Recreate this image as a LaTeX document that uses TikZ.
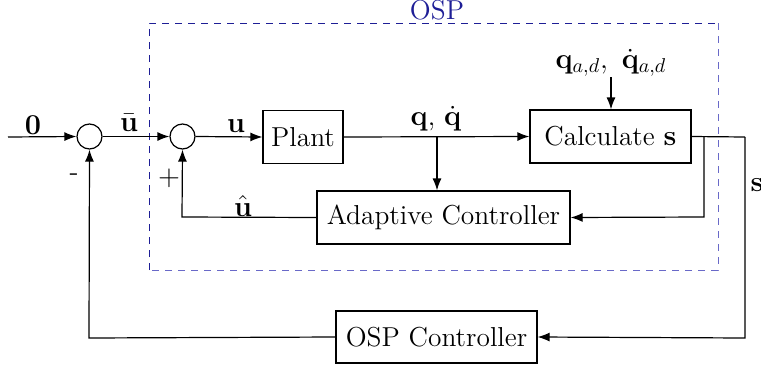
\documentclass[tikz,border=0pt]{standalone}
\usetikzlibrary{arrows.meta}
\definecolor{ospdark}{RGB}{30,30,150}
\definecolor{osplight}{RGB}{105,105,200}
\begin{document}
\begin{tikzpicture}[x=0.5pt,y=-0.5pt,
  every node/.style={font=\fontsize{13.7}{16}\selectfont},
  blk/.style={draw,line width=0.6pt,inner sep=0pt,minimum height=26.5pt},
  sumpt/.style={draw,circle,line width=0.6pt,inner sep=0pt,minimum size=12.5pt},
  wire/.style={line width=0.6pt},
  arr/.style={wire,-{Latex[length=6pt,width=4.5pt]}},
  lbl/.style={inner sep=0pt},
  grp/.style={line width=0.5pt,dash pattern=on 3.5pt off 3pt}]
\useasboundingbox (0,0) rectangle (761,370);

% enclosing dashed group
\draw[grp,ospdark] (149,270) -- (149,23) -- (718,23);
\draw[grp,osplight] (718,23) -- (718,270) -- (149,270);
\node[lbl,text=ospdark] (osp) at (437,10) {OSP};

% blocks
\node[sumpt] (s1) at (89.5,136.5) {};
\node[sumpt] (s2) at (182.5,136.5) {};
\node[blk,minimum width=40pt] (plant) at (303,137) {Plant};
\node[blk,minimum width=80.5pt] (calc) at (610.5,136.5) {Calculate $\mathbf{s}$};
\node[blk,minimum width=126.5pt] (adapt) at (443.5,217.5) {Adaptive Controller};
\node[blk,minimum width=100.5pt,minimum height=26pt] (ospc) at (436.5,337) {OSP Controller};

% junction points
\coordinate (in) at (8,137);
\coordinate (qb) at (437,137);
\coordinate (sb) at (704,137);
\coordinate (so) at (745,137);

% forward path
\draw[arr] (in) -- (s1.west);
\draw[arr] (s1.east) -- (s2.west);
\draw[arr] (s2.east) -- (plant.west);
\draw[arr] (plant.east) -- (calc.west);
\draw[arr] (qb) -- (qb |- adapt.north);

% desired trajectory input
\node[lbl] (qad) at (611,63) {$\mathbf{q}_{a,d},\ \dot{\mathbf{q}}_{a,d}$};
\draw[arr] (611,77) -- (calc.north -| qad);

% sliding variable feedback
\draw[wire] (calc.east) -- (so);
\draw[arr] (so) -- (745,338) -- (ospc.east);
\draw[arr] (sb) -- (704,217) -- (adapt.east);

% feedback into the summing junctions
\draw[arr] (adapt.west) -- (182,217) -- (s2.south);
\draw[arr] (ospc.west) -- (89,338) -- (s1.south);

% signal labels
\node[lbl] (l0) at (33,125) {$\mathbf{0}$};
\node[lbl] (lub) at (129,123) {$\bar{\mathbf{u}}$};
\node[lbl] (lu) at (236,126) {$\mathbf{u}$};
\node[lbl] (lq) at (436,119) {$\mathbf{q}$, $\dot{\mathbf{q}}$};
\node[lbl] (luh) at (243,206) {$\hat{\mathbf{u}}$};
\node[lbl] (lplus) at (169,178) {$+$};
\node[lbl] (lminus) at (74,177) {-};
\node[lbl] (ls) at (757,185) {$\mathbf{s}$};
\end{tikzpicture}
\end{document}
